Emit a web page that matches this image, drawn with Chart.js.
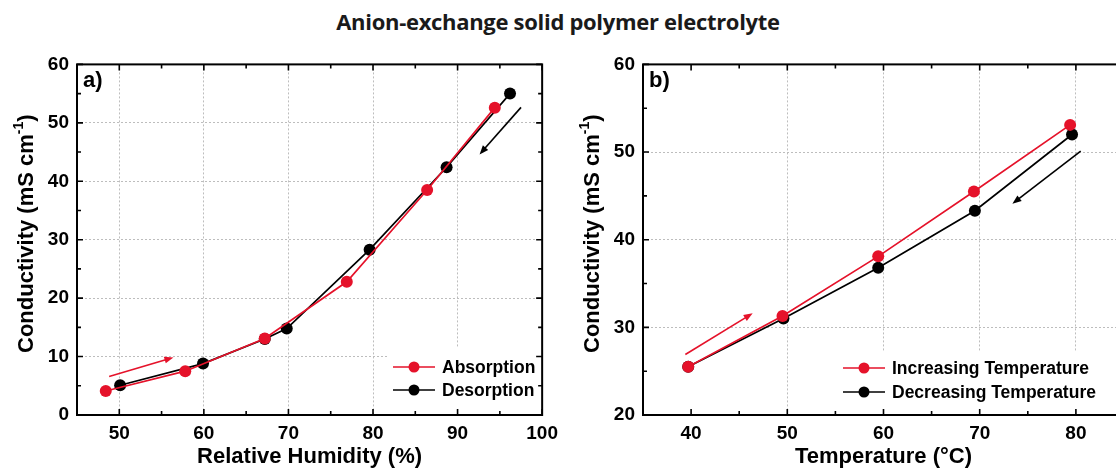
<!DOCTYPE html>
<html><head><meta charset="utf-8">
<script src="https://cdn.jsdelivr.net/npm/chart.js@4.4.1/dist/chart.umd.min.js"></script>
<style>
html,body{margin:0;padding:0;background:#fff;overflow:hidden;width:1116px;height:470px;position:relative}
#title{position:absolute;left:0;width:1116px;top:6px;text-align:center;font:700 22px "Open Sans",sans-serif;letter-spacing:-0.3px;color:#1a1a1a;}
#wa{position:absolute;left:0;top:45px;width:565px;height:425px}
#wb{position:absolute;left:565px;top:45px;width:600px;height:425px}
</style></head><body>
<div id="title">Anion-exchange solid polymer electrolyte</div>
<div id="wa"><canvas id="ca" width="565" height="425"></canvas></div>
<div id="wb"><canvas id="cb" width="600" height="425"></canvas></div>
<script>
// ---- data ----
const rhAbs   = [48.4, 57.8, 67.2, 76.9, 86.4, 94.4];
const condAbs = [4.1, 7.5, 13.1, 22.8, 38.5, 52.6];
const rhDes   = [50.1, 59.9, 67.2, 69.8, 79.6, 88.7, 96.2];
const condDes = [5.1, 8.8, 13.0, 14.8, 28.3, 42.4, 55.0];
const tempInc = [39.7, 49.5, 59.45, 69.4, 79.4];
const condInc = [25.5, 31.3, 38.1, 45.5, 53.1];
const tempDec = [39.7, 49.6, 59.45, 69.5, 79.6];
const condDec = [25.5, 31.0, 36.8, 43.3, 52.0];
const xTicksA = [50, 60, 70, 80, 90, 100];
const yTicksA = [0, 10, 20, 30, 40, 50, 60];
const xTicksB = [40, 50, 60, 70, 80];
const yTicksB = [20, 30, 40, 50, 60];
const labelsA = ['Absorption', 'Desorption'];
const labelsB = ['Increasing Temperature', 'Decreasing Temperature'];
// arrows in data coordinates [x1,y1,x2,y2]
const arrowRedA   = [48.8, 6.6, 56.4, 9.85];
const arrowBlackA = [97.5, 52.65, 92.6, 44.6];
const arrowRedB   = [39.4, 26.9, 46.4, 31.6];
const arrowBlackB = [80.5, 50.1, 73.4, 44.1];

const RED = '#e5122a', BLACK = '#000000';
const FONT = '"Liberation Sans", Arial, Helvetica, sans-serif';
const GRID = '#bdbdbd';
Chart.defaults.font.family = FONT;
Chart.defaults.color = '#000';

function pts(xs, ys) { return xs.map((x, i) => ({x: x, y: ys[i]})); }

function ds(label, data, color) {
  return {label: label, data: data, borderColor: color, backgroundColor: color,
    pointBackgroundColor: color, pointBorderColor: color, pointBorderWidth: 0,
    pointRadius: 6, pointHoverRadius: 6, borderWidth: 1.7, showLine: true, tension: 0};
}

function arrow(ctx, x1, y1, x2, y2, color) {
  const a = Math.atan2(y2 - y1, x2 - x1), L = 9, W = 3.5;
  ctx.save();
  ctx.strokeStyle = color; ctx.fillStyle = color; ctx.lineWidth = 1.6;
  ctx.beginPath(); ctx.moveTo(x1, y1);
  ctx.lineTo(x2 - Math.cos(a) * L * 0.6, y2 - Math.sin(a) * L * 0.6); ctx.stroke();
  ctx.beginPath(); ctx.moveTo(x2, y2);
  ctx.lineTo(x2 - L * Math.cos(a) + W * Math.sin(a), y2 - L * Math.sin(a) - W * Math.cos(a));
  ctx.lineTo(x2 - L * Math.cos(a) - W * Math.sin(a), y2 - L * Math.sin(a) + W * Math.cos(a));
  ctx.closePath(); ctx.fill();
  ctx.restore();
}

const deco = {
  id: 'deco',
  afterDraw(chart, args, o) {
    const ctx = chart.ctx, ca = chart.chartArea, xs = chart.scales.x, ys = chart.scales.y;
    ctx.save();
    // arrows
    o.arrows.forEach(ar => {
      arrow(ctx, xs.getPixelForValue(ar.d[0]), ys.getPixelForValue(ar.d[1]),
                 xs.getPixelForValue(ar.d[2]), ys.getPixelForValue(ar.d[3]), ar.c);
    });
    // legend box
    const lx = ca.left + o.legX, bx = lx - 4;
    ctx.fillStyle = '#fff';
    ctx.fillRect(bx, ca.bottom - o.legBoxH, ca.right - bx, o.legBoxH);
    chart.data.datasets.forEach((d, i) => {
      const y = ca.bottom - o.legRows[i];
      ctx.strokeStyle = d.borderColor; ctx.lineWidth = 1.6;
      ctx.beginPath(); ctx.moveTo(lx, y); ctx.lineTo(lx + 42, y); ctx.stroke();
      ctx.fillStyle = d.borderColor;
      ctx.beginPath(); ctx.arc(lx + 21, y, 5.5, 0, Math.PI * 2); ctx.fill();
      ctx.fillStyle = '#000'; ctx.font = 'bold 17.5px ' + FONT;
      ctx.textAlign = 'left'; ctx.textBaseline = 'middle';
      ctx.fillText(d.label, lx + 49, y + 1);
    });
    // frame
    ctx.strokeStyle = '#000'; ctx.lineWidth = 2;
    ctx.strokeRect(ca.left, ca.top, ca.right - ca.left, ca.bottom - ca.top);
    // inward ticks (major + minor every 5)
    ctx.lineWidth = 1.6;
    for (let v = xs.min; v <= xs.max + 1e-9; v += 5) {
      const p = xs.getPixelForValue(v), len = (v % 10 === 0) ? 6 : 4;
      ctx.beginPath(); ctx.moveTo(p, ca.bottom); ctx.lineTo(p, ca.bottom - len);
      ctx.moveTo(p, ca.top); ctx.lineTo(p, ca.top + len); ctx.stroke();
    }
    for (let v = ys.min; v <= ys.max + 1e-9; v += 5) {
      const p = ys.getPixelForValue(v), len = (v % 10 === 0) ? 6 : 4;
      ctx.beginPath(); ctx.moveTo(ca.left, p); ctx.lineTo(ca.left + len, p);
      ctx.moveTo(ca.right, p); ctx.lineTo(ca.right - len, p); ctx.stroke();
    }
    // panel label
    ctx.fillStyle = '#000'; ctx.font = 'bold 22px ' + FONT;
    ctx.textAlign = 'left'; ctx.textBaseline = 'middle';
    ctx.fillText(o.panel, ca.left + 6, ca.top + 17);
    // y axis title with superscript
    ctx.translate(o.yTitleX, (ca.top + ca.bottom) / 2 - 6);
    ctx.rotate(-Math.PI / 2);
    const big = 'bold 22px ' + FONT, small = 'bold 14px ' + FONT;
    const t1 = 'Conductivity (mS cm', t2 = '-1', t3 = ')';
    ctx.font = big; const w1 = ctx.measureText(t1).width, w3 = ctx.measureText(t3).width;
    ctx.font = small; const w2 = ctx.measureText(t2).width;
    let x = -(w1 + w2 + w3) / 2;
    ctx.font = big; ctx.fillText(t1, x, 0); x += w1;
    ctx.font = small; ctx.fillText(t2, x, -8); x += w2;
    ctx.font = big; ctx.fillText(t3, x, 0);
    ctx.restore();
  }
};

function makeChart(id, cfg) {
  return new Chart(document.getElementById(id), {
    type: 'scatter',
    data: {datasets: cfg.datasets},
    plugins: [deco],
    options: {
      responsive: false, animation: false,
      layout: {padding: {top: 15, right: cfg.padRight, left: 0, bottom: 0}},
      plugins: {
        legend: {display: false}, tooltip: {enabled: false}, title: {display: false},
        deco: cfg.deco
      },
      scales: {
        x: {
          type: 'linear', min: cfg.xMin, max: cfg.xMax,
          afterBuildTicks: s => { s.ticks = cfg.xTicks.map(v => ({value: v})); },
          afterFit: s => { s.height = 55; },
          grid: {drawTicks: false, lineWidth: 1,
                 color: c => (c.tick && cfg.xNoGrid.includes(c.tick.value)) ? 'rgba(0,0,0,0)' : GRID},
          border: {display: false, dash: [2, 2]},
          ticks: {padding: 7, color: '#000', font: {size: 19, weight: 'bold'}},
          title: {display: true, text: cfg.xTitle, color: '#000', padding: {top: 0, bottom: 0},
                  font: {size: 22, weight: 'bold'}}
        },
        y: {
          type: 'linear', min: cfg.yMin, max: cfg.yMax,
          afterBuildTicks: s => { s.ticks = cfg.yTicks.map(v => ({value: v})); },
          afterFit: s => { s.width = cfg.yWidth; },
          grid: {drawTicks: false, lineWidth: 1, color: GRID},
          border: {display: false, dash: [2, 2]},
          ticks: {padding: 8, color: '#000', font: {size: 19, weight: 'bold'}},
          title: {display: false}
        }
      }
    }
  });
}

makeChart('ca', {
  datasets: [ds(labelsA[0], pts(rhAbs, condAbs), RED), ds(labelsA[1], pts(rhDes, condDes), BLACK)],
  xMin: 45, xMax: 100, yMin: 0, yMax: 60, xTicks: xTicksA, yTicks: yTicksA, xNoGrid: [],
  xTitle: 'Relative Humidity (%)', yWidth: 77, padRight: 7,
  deco: {panel: 'a)', yTitleX: 27, legX: 316, legRows: [48, 25], legBoxH: 67,
         arrows: [{d: arrowRedA, c: RED}, {d: arrowBlackA, c: BLACK}]}
});
makeChart('cb', {
  datasets: [ds(labelsB[0], pts(tempInc, condInc), RED), ds(labelsB[1], pts(tempDec, condDec), BLACK)],
  xMin: 35, xMax: 85, yMin: 20, yMax: 60, xTicks: xTicksB, yTicks: yTicksB, xNoGrid: [40],
  xTitle: 'Temperature (°C)', yWidth: 78, padRight: 41,
  deco: {panel: 'b)', yTitleX: 28, legX: 200, legRows: [47, 23], legBoxH: 63,
         arrows: [{d: arrowRedB, c: RED}, {d: arrowBlackB, c: BLACK}]}
});
</script>
</body></html>
